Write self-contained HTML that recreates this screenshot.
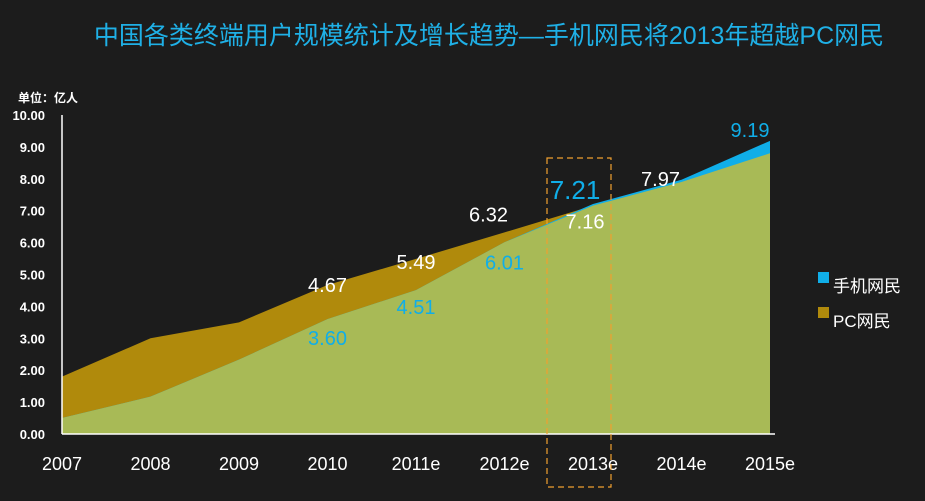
<!DOCTYPE html>
<html><head><meta charset="utf-8"><style>
body{margin:0;background:#1c1c1c;width:925px;height:496px;overflow:hidden;font-family:"Liberation Sans","Noto Sans CJK SC",sans-serif}
</style></head><body>
<svg id="c" width="925" height="496" xmlns="http://www.w3.org/2000/svg">
<rect width="925" height="496" fill="#1c1c1c"/>
<text x="489" y="44" text-anchor="middle" fill="#1fb0e6" font-size="25" font-family="Liberation Sans,Noto Sans CJK SC,sans-serif">中国各类终端用户规模统计及增长趋势—手机网民将2013年超越PC网民</text>
<text x="18" y="102" fill="#fff" font-size="12" font-weight="bold">单位：亿人</text>
<g id="plot"></g>
<rect x="547" y="158" width="64" height="329" fill="none" stroke="#f0a030" stroke-width="1.2" stroke-dasharray="6,4"/>
<rect x="818" y="272" width="11" height="11" fill="#10aee8"/>
<text x="833" y="292" fill="#fff" font-size="17">手机网民</text>
<rect x="818" y="307" width="11" height="11" fill="#b08a0c"/>
<text x="833" y="327" fill="#fff" font-size="17">PC网民</text>
</svg>
<script>
const categories=["2007","2008","2009","2010","2011e","2012e","2013e","2014e","2015e"];
const mobile=[0.5,1.17,2.33,3.60,4.51,6.01,7.21,7.97,9.19];
const pc=[1.8,3.0,3.5,4.67,5.49,6.32,7.16,7.9,8.8];
const yTicks=[0,1,2,3,4,5,6,7,8,9,10];
const mobileLabels=[null,null,null,"3.60","4.51","6.01","7.21",null,"9.19"];
const pcLabels=[null,null,null,"4.67","5.49","6.32","7.16","7.97",null];
const NS="http://www.w3.org/2000/svg";
const g=document.getElementById('plot');
const x=i=>62+i*88.5, y=v=>434-v*31.9;
function el(t,a){const e=document.createElementNS(NS,t);for(const k in a)e.setAttribute(k,a[k]);g.appendChild(e);return e;}
function area(vals){let d="M"+x(0)+","+y(0);vals.forEach((v,i)=>d+=" L"+x(i)+","+y(v));d+=" L"+x(vals.length-1)+","+y(0)+"Z";return d;}
let a=el('path',{d:area(pc),fill:'#b08a0c'});


a=el('path',{d:area(mobile),fill:'#10aee8'});


a=el('path',{d:area(mobile.map((v,i)=>Math.min(v,pc[i]))),fill:'#a8ba56'});


let ax=el('line',{x1:62,y1:y(10),x2:62,y2:y(0),stroke:'#fff','stroke-width':1.5});


ax=el('line',{x1:62,y1:y(0),x2:775,y2:y(0),stroke:'#fff','stroke-width':1.5});


yTicks.forEach(v=>{const t=el('text',{x:45,y:y(v)+5,'text-anchor':'end',fill:'#fff','font-size':13,'font-weight':'bold'});t.textContent=v.toFixed(2);

});
categories.forEach((c,i)=>{const t=el('text',{x:x(i),y:470,'text-anchor':'middle',fill:'#fff','font-size':18});t.textContent=c;

});
const mOff=[0,0,0,[0,19],[0,17],[0,20],[-18,-14],0,[-20,-11]];
const pOff=[0,0,0,[0,0],[0,3],[-16,-18],[-8,16],[-21,-3],0];
mobile.forEach((v,i)=>{if(!mobileLabels[i])return;const o=mOff[i];const t=el('text',{x:x(i)+o[0],y:y(v)+o[1]+(i==6?9:7),'text-anchor':'middle',fill:'#10aee8','font-size':i==6?26:20});t.textContent=mobileLabels[i];

});
pc.forEach((v,i)=>{if(!pcLabels[i])return;const o=pOff[i];const t=el('text',{x:x(i)+o[0],y:y(v)+o[1]+7,'text-anchor':'middle',fill:'#fff','font-size':20});t.textContent=pcLabels[i];

});
</script>
</body></html>
